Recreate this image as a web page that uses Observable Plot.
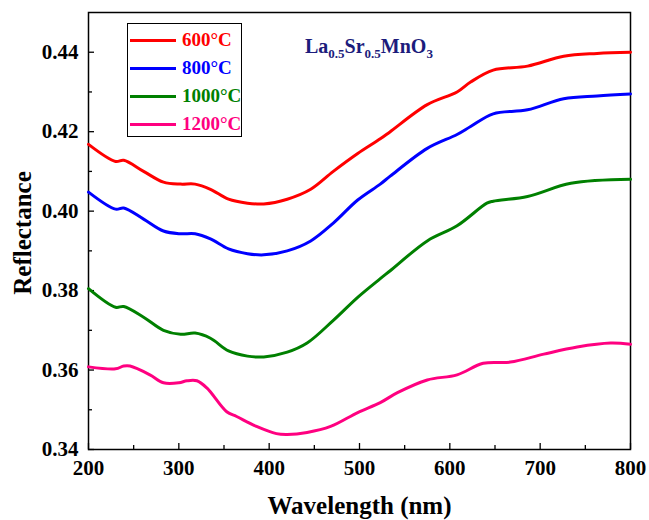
<!DOCTYPE html>
<html>
<head>
<meta charset="utf-8">
<script src="https://cdn.jsdelivr.net/npm/d3@7"></script>
<script src="https://cdn.jsdelivr.net/npm/@observablehq/plot@0.6"></script>
<style>
  body { margin: 0; background: #fff; }
  #wrap { position: relative; width: 649px; height: 520px; font-family: 'Liberation Serif', 'DejaVu Serif', serif; }
  #wrap svg, #wrap svg text { font-family: 'Liberation Serif', 'DejaVu Serif', serif !important; }
  .legend { position: absolute; left: 127px; top: 23px; width: 115px; height: 114px; border: 1.5px solid #000; background: #fff; box-sizing: border-box; }
  .row { position: absolute; left: 2px; height: 20px; display: flex; align-items: center; font-weight: bold; font-size: 19px; }
  .sw { width: 46px; height: 3px; margin-right: 6px; }
  .title { position: absolute; left: 305px; top: 35px; font-weight: bold; font-size: 20px; color: #1c1c7c; }
  .title sub { font-size: 13px; vertical-align: -5px; line-height: 0; }
</style>
</head>
<body>
<div id="wrap"></div>
<script>
const wavelength = [200,230,239,261,283,302,318,335,355,376,394,420,446,471,498,523,534,575,608,623,648,686,726,763,800];
const r600 = [0.4168,0.4125,0.4128,0.4100,0.4073,0.4068,0.4068,0.4055,0.4030,0.4020,0.4018,0.4030,0.4055,0.4100,0.4145,0.4182,0.4200,0.4268,0.4300,0.4325,0.4355,0.4365,0.4390,0.4397,0.4400];
const r800 = [0.4048,0.4005,0.4008,0.3980,0.3950,0.3943,0.3943,0.3930,0.3905,0.3893,0.3890,0.3900,0.3925,0.3970,0.4028,0.4068,0.4088,0.4158,0.4193,0.4213,0.4245,0.4255,0.4283,0.4290,0.4295];
const wl1000 = [200,230,239,261,283,302,318,335,355,376,394,420,442,471,498,523,534,575,608,641,648,686,734,800];
const r1000 = [0.3805,0.3758,0.3760,0.3733,0.3700,0.3690,0.3693,0.3680,0.3648,0.3635,0.3633,0.3645,0.3668,0.3725,0.3783,0.3830,0.3850,0.3925,0.3963,0.4020,0.4025,0.4037,0.4070,0.4080];
const wl1200 = [200,230,239,246,268,283,300,309,320,331,353,364,386,408,420,442,468,498,523,542,575,608,637,667,704,741,778,800];
const r1200 = [0.3608,0.3603,0.3610,0.3610,0.3588,0.3568,0.3568,0.3573,0.3573,0.3555,0.3495,0.3483,0.3458,0.3440,0.3438,0.3443,0.3458,0.3493,0.3518,0.3543,0.3575,0.3588,0.3617,0.3620,0.3640,0.3658,0.3668,0.3665];

const seriesNames = ["600°C","800°C","1000°C","1200°C"];
const seriesColors = ["#ff0000","#0000ff","#008000","#ff0080"];
const xTicks = [200,300,400,500,600,700,800];
const xMinor = [250,350,450,550,650,750];
const yTicks = [0.34,0.36,0.38,0.40,0.42,0.44];
const yMinor = [0.35,0.37,0.39,0.41,0.43];

const data = [
  ...wavelength.map((w,i)=>({s:"600°C", w, r:r600[i]})),
  ...wavelength.map((w,i)=>({s:"800°C", w, r:r800[i]})),
  ...wl1000.map((w,i)=>({s:"1000°C", w, r:r1000[i]})),
  ...wl1200.map((w,i)=>({s:"1200°C", w, r:r1200[i]}))
];

const font = "'Liberation Serif', 'DejaVu Serif', serif";
const chart = Plot.plot({
  width: 649, height: 520,
  marginLeft: 88, marginRight: 19, marginTop: 12, marginBottom: 71,
  style: {fontFamily: font, background: "white"},
  x: {domain: [200,800]},
  y: {domain: [0.34,0.45]},
  color: {domain: seriesNames, range: seriesColors},
  marks: [
    Plot.frame({stroke: "black", strokeWidth: 1.5}),
    Plot.axisX({ticks: xTicks, tickSize: -6, tickFormat: d => d, fontSize: 21, fontWeight: "bold", tickPadding: 17, label: null, strokeWidth: 1.3}),
    Plot.axisX({ticks: xMinor, tickSize: -4, text: null, label: null, strokeWidth: 1.3}),
    Plot.axisY({ticks: yTicks, tickSize: -6, tickFormat: d3.format(".2f"), fontSize: 21, fontWeight: "bold", tickPadding: 16, label: null, strokeWidth: 1.3}),
    Plot.axisY({ticks: yMinor, tickSize: -4, text: null, label: null, strokeWidth: 1.3}),
    Plot.line(data, {x: "w", y: "r", z: "s", stroke: "s", strokeWidth: 3, curve: "catmull-rom"}),
    Plot.text(["Wavelength (nm)"], {frameAnchor: "bottom", dy: 64, fontSize: 25, fontWeight: "bold", fill: "black"}),
    Plot.text(["Reflectance"], {frameAnchor: "left", textAnchor: "middle", dx: -66, dy: 2, rotate: -90, fontSize: 25, fontWeight: "bold", fill: "black"})
  ]
});
const wrap = document.getElementById("wrap");
wrap.appendChild(chart);

const legend = document.createElement("div");
legend.className = "legend";
seriesNames.forEach((n,i) => {
  const row = document.createElement("div");
  row.className = "row";
  row.style.top = (6 + i*28) + "px";
  row.style.color = seriesColors[i];
  row.innerHTML = `<span class="sw" style="background:${seriesColors[i]}"></span>${n}`;
  legend.appendChild(row);
});
wrap.appendChild(legend);

const title = document.createElement("div");
title.className = "title";
title.innerHTML = "La<sub>0.5</sub>Sr<sub>0.5</sub>MnO<sub>3</sub>";
wrap.appendChild(title);
chart.style.position = "absolute";
chart.style.left = "0"; chart.style.top = "0";
</script>
</body>
</html>
